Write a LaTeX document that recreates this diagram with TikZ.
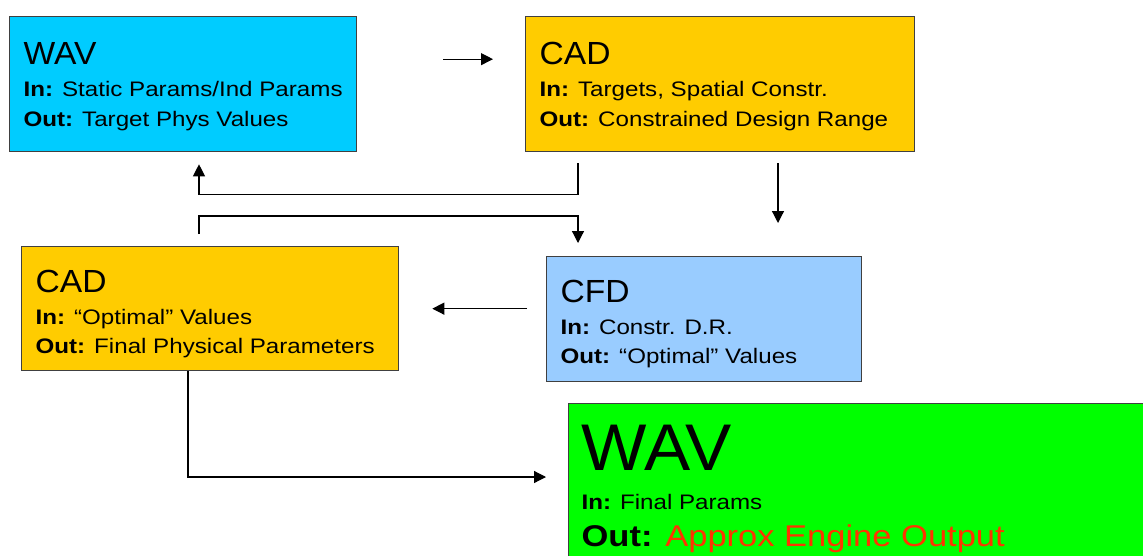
\documentclass[tikz,border=0pt]{standalone}
\usepackage{fontspec}
\setmainfont{Liberation Sans}
\newfontfamily\titlefont[FakeStretch=1.05]{Liberation Sans}
\newfontfamily\bodyfont[FakeStretch=1.15]{Liberation Sans}
\usetikzlibrary{arrows.meta, calc}

\definecolor{wavblue}{HTML}{00CCFF}
\definecolor{cadgold}{HTML}{FFCC00}
\definecolor{cfdblue}{HTML}{99CCFF}
\definecolor{finalgreen}{HTML}{00FF00}
\definecolor{outred}{HTML}{FF3300}
\definecolor{boxline}{HTML}{404040}

% box text: width, height, top gap, title, in, out
\newcommand{\stage}[6]{\parbox[c][#2][t]{#1}{\leftskip=14pt
  \vspace*{#3}%
  {\titlefont\fontsize{32}{32}\selectfont #4\par}
  {\bodyfont\fontsize{21}{32}\selectfont\textbf{In:} #5\par}
  {\bodyfont\fontsize{21}{29.5}\selectfont\textbf{Out:} #6\par}}}

\begin{document}
\begin{tikzpicture}[
    x=1pt, y=-1pt,
    block/.style={draw=boxline, line width=1.3pt, inner sep=0pt, anchor=north west},
    arrow/.style={-{Triangle[length=12pt, width=12pt]}, line width=1.2pt}
]
\fill[white] (0,0) rectangle (1143,555);
\useasboundingbox (0,0) rectangle (1143,555);

\node[block, fill=wavblue] (wav) at (9,16) {\stage{347pt}{135pt}{26pt}{WAV}{Static Params/Ind Params}{Target Phys Values}};
\node[block, fill=cadgold] (cad) at (525,16) {\stage{389pt}{135pt}{26pt}{CAD}{Targets, Spatial Constr.}{Constrained Design Range}};
\node[block, fill=cadgold] (cad2) at (21,246) {\stage{377pt}{124pt}{23pt}{CAD}{“Optimal” Values}{Final Physical Parameters}};
\node[block, fill=cfdblue] (cfd) at (546,256) {\stage{315pt}{125pt}{23pt}{CFD}{Constr. D.R.}{“Optimal” Values}};
\node[block, fill=finalgreen] (final) at (568,403) {\parbox[c][200pt][t]{600pt}{\leftskip=13pt
  \vspace*{21pt}%
  {\titlefont\fontsize{66}{66}\selectfont WAV\par}
  {\bodyfont\fontsize{21}{39}\selectfont\textbf{In:} Final Params\par}
  {\bodyfont\fontsize{30}{37}\selectfont\textbf{Out:} \textcolor{outred}{Approx Engine Output}\par}}};

\draw[arrow, shorten <=86pt, shorten >=32pt] ([yshift=25pt]wav.east) -- ([yshift=25pt]cad.west);
\draw[arrow, shorten <=11pt, shorten >=12pt] ([xshift=53pt]cad.south west) -- ++(0,42) -| ([xshift=190pt]wav.south west);
\draw[arrow, shorten <=11pt, shorten >=33pt] ([xshift=253pt]cad.south west) -- ([xshift=253pt]cad.south west |- cfd.north);
\draw[arrow, shorten <=12pt, shorten >=13pt] ([xshift=178pt]cad2.north west) -- ++(0,-30) -| ([xshift=32pt]cfd.north west);
\draw[arrow, shorten <=19pt, shorten >=33pt] (cad2.east -| cfd.west) -- (cad2.east);
\draw[arrow, shorten >=22pt] ([xshift=167pt]cad2.south west) |- ([yshift=-74pt]final.north west);

\end{tikzpicture}
\end{document}
